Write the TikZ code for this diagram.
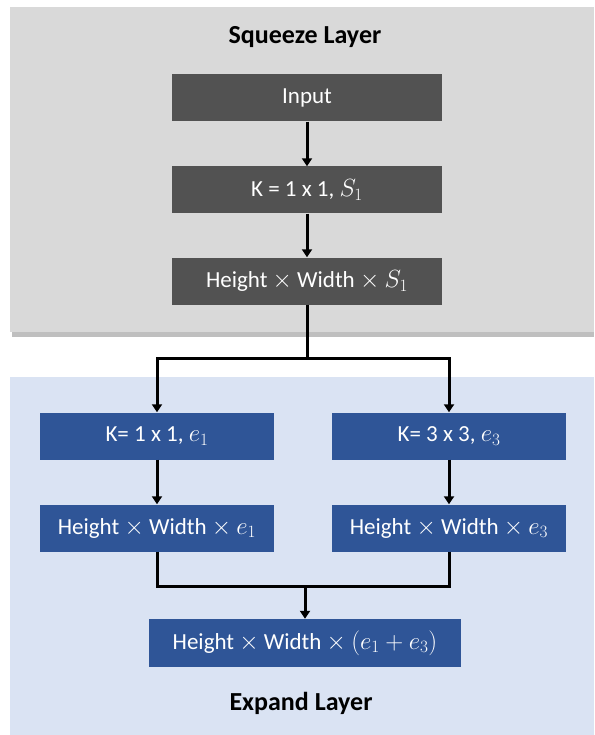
\documentclass[tikz,border=0pt]{standalone}
\usepackage{fontspec}
\setmainfont{Carlito}
\usetikzlibrary{positioning, arrows.meta}
\definecolor{squeezebg}{HTML}{D9D9D9}
\definecolor{expandbg}{HTML}{DAE3F3}
\definecolor{darkbox}{HTML}{525252}
\definecolor{bluebox}{HTML}{2F5597}

\begin{document}
\begin{tikzpicture}[
                x=1pt, y=-1pt,
                block/.style={minimum height=47pt, inner sep=0pt,
                              text=white, font=\fontsize{23}{27}\selectfont},
                greyblock/.style={block, fill=darkbox, minimum width=270pt},
                blueblock/.style={block, fill=bluebox, minimum width=234pt},
                lbl/.style={font=\fontsize{26}{30}\selectfont\bfseries, text=black},
                link/.style={line width=3pt, draw=black},
                arrow/.style={link, -{Triangle[length=8pt, width=10pt]}},
            ]
                \useasboundingbox (0,0) rectangle (594,735);

                % Squeeze layer
                \fill[black!25] (12,331) rectangle (594,337);
                \fill[squeezebg] (10,7) rectangle (594,332);
                \node[lbl] (squeeze) at (305,37) {Squeeze Layer};
                \node[greyblock] (input) at (307,98) {Input};
                \node[greyblock] (ks) at (307,190) {K = 1 x 1, $S_1$};
                \node[greyblock] (hws) at (307,281) {Height $\times$ Width $\times$ $S_1$};

                % Expand layer
                \fill[expandbg] (10,377) rectangle (594,735);
                \node[blueblock] (ke1) at (157,436) {K= 1 x 1, $e_1$};
                \node[blueblock] (ke3) at (449,436) {K= 3 x 3, $e_3$};
                \node[blueblock] (hwe1) at (157,528) {Height $\times$ Width $\times$ $e_1$};
                \node[blueblock] (hwe3) at (449,528) {Height $\times$ Width $\times$ $e_3$};
                \node[blueblock, minimum width=312pt, minimum height=48pt] (out) at (305,643)
                    {Height $\times$ Width $\times$ $(e_1+e_3)$};
                \node[lbl] (expand) at (301,703) {Expand Layer};

                % connectors
                \coordinate (split) at (307,358);
                \coordinate (merge) at (305,586);
                \draw[arrow] (input) -- (ks);
                \draw[arrow] (ks) -- (hws);
                \draw[link] (hws) -- (split);
                \draw[arrow] (split) -| (ke1);
                \draw[arrow] (split) -| (ke3);
                \draw[arrow] (ke1) -- (hwe1);
                \draw[arrow] (ke3) -- (hwe3);
                \draw[link] (hwe1) |- (merge);
                \draw[link] (hwe3) |- (merge);
                \draw[arrow] (merge) -- (out);
            \end{tikzpicture}
\end{document}
